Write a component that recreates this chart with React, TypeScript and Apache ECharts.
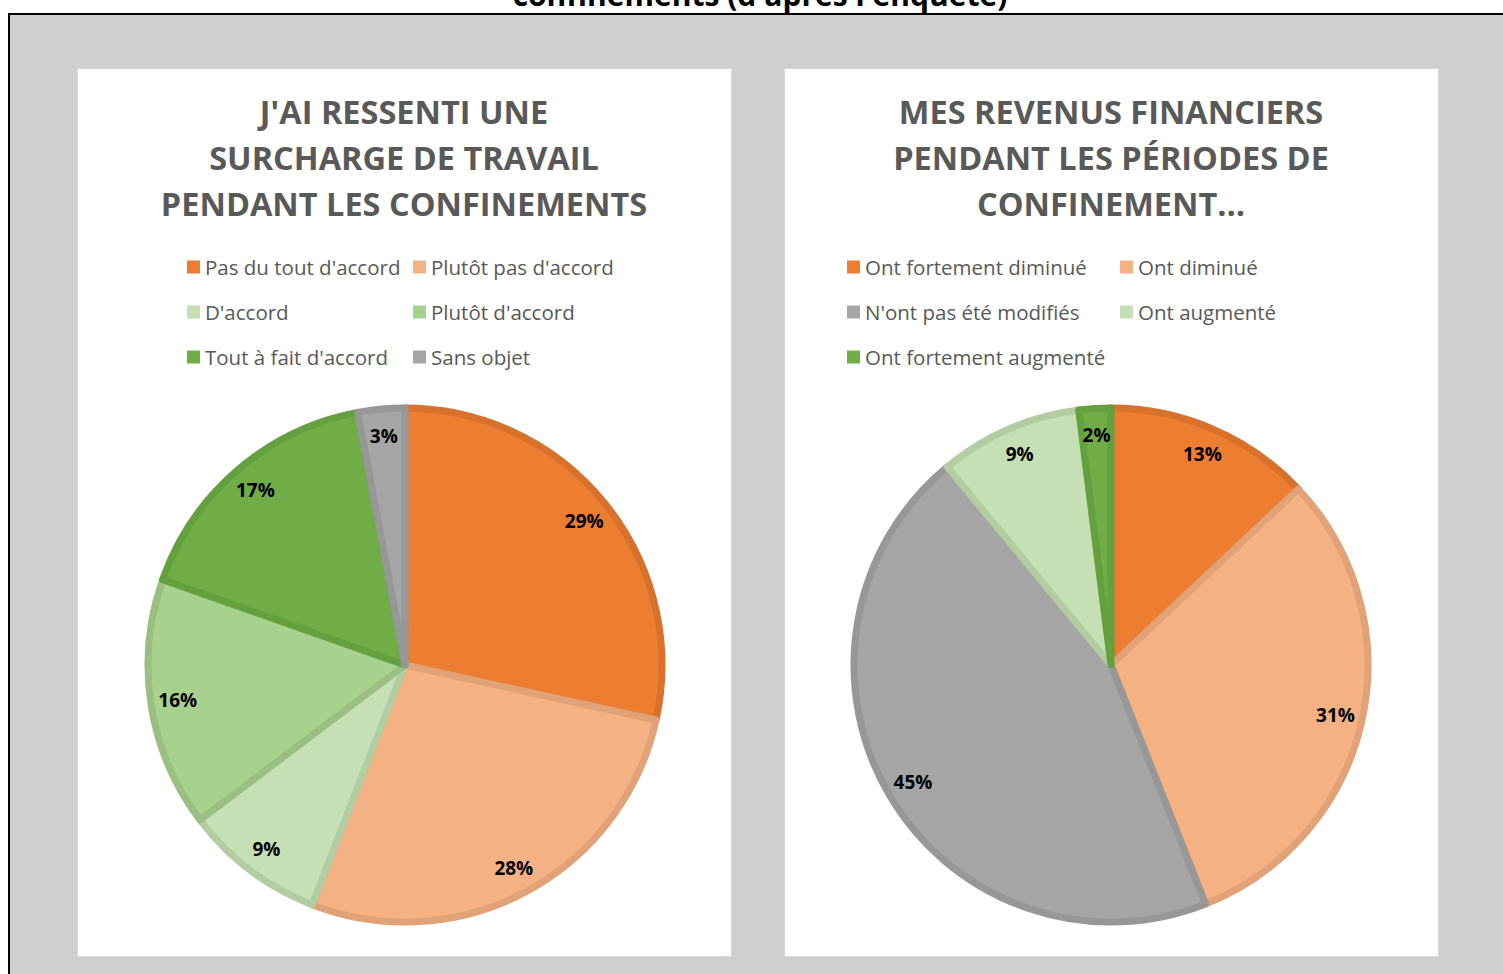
import React, { useEffect, useRef } from "react";
import * as echarts from "echarts";

const leftTitle = "J'AI RESSENTI UNE\nSURCHARGE DE TRAVAIL\nPENDANT LES CONFINEMENTS";
const rightTitle = "MES REVENUS FINANCIERS\nPENDANT LES PÉRIODES DE\nCONFINEMENT…";
const topTitle = "confinements (d'après l'enquête)";

const leftNames = [
  "Pas du tout d'accord",
  "Plutôt pas d'accord",
  "D'accord",
  "Plutôt d'accord",
  "Tout à fait d'accord",
  "Sans objet",
];
const leftValues = [29, 28, 9, 16, 17, 3];
const leftColors = ["#ED7D31", "#F4B183", "#C5E0B4", "#A9D18E", "#70AD47", "#A5A5A5"];
const leftBorders = ["#D8712C", "#E0A276", "#B3CDA3", "#9ABF81", "#65A03F", "#979797"];

const rightNames = [
  "Ont fortement diminué",
  "Ont diminué",
  "N'ont pas été modifiés",
  "Ont augmenté",
  "Ont fortement augmenté",
];
const rightValues = [13, 31, 45, 9, 2];
const rightColors = ["#ED7D31", "#F4B183", "#A5A5A5", "#C5E0B4", "#70AD47"];
const rightBorders = ["#D8712C", "#E0A276", "#979797", "#B3CDA3", "#65A03F"];

const FONT = "'Open Sans', sans-serif";

function pieSeries(names: string[], values: number[], colors: string[], borders: string[], cx: number) {
  const data = names.map((n, i) => ({
    name: n,
    value: values[i],
    itemStyle: { color: colors[i], borderColor: borders[i] },
  }));
  const main = {
    type: "pie",
    center: [cx, 665],
    radius: [0, 257],
    startAngle: 90,
    clockwise: true,
    avoidLabelOverlap: false,
    label: { show: false },
    labelLine: { show: false },
    itemStyle: { borderWidth: 7 },
    emphasis: { disabled: true },
    data,
  };
  const labels = {
    type: "pie",
    center: [cx, 665],
    radius: [192, 262],
    startAngle: 90,
    clockwise: true,
    silent: true,
    avoidLabelOverlap: false,
    itemStyle: { color: "rgba(0,0,0,0)", borderWidth: 0 },
    label: {
      show: true,
      position: "inside",
      formatter: "{c}%",
      color: "#000",
      fontFamily: FONT,
      fontWeight: "bold",
      fontSize: 19,
    },
    labelLine: { show: false },
    emphasis: { disabled: true },
    data: names.map((n, i) => ({ name: n, value: values[i] })),
  };
  return [main, labels];
}

function legend(names: string[], left: number) {
  return {
    orient: "vertical",
    left,
    top: 256,
    data: names,
    icon: "rect",
    itemWidth: 13,
    itemHeight: 13,
    itemGap: 23,
    padding: 0,
    selectedMode: false,
    itemStyle: { borderWidth: 0 },
    textStyle: { color: "#595959", fontFamily: FONT, fontSize: 20.5, lineHeight: 22 },
  };
}

export default function App() {
  const ref = useRef<HTMLDivElement>(null);
  useEffect(() => {
    if (!ref.current) return;
    const chart = echarts.init(ref.current, null, { renderer: "svg" });
    const titleStyle = {
      color: "#595959",
      fontFamily: FONT,
      fontWeight: "bold",
      fontSize: 32.5,
      lineHeight: 46,
    };
    chart.setOption({
      animation: false,
      backgroundColor: "#FFFFFF",
      title: [
        { text: leftTitle, left: 404, top: 88, textAlign: "center", padding: 0, textStyle: titleStyle },
        { text: rightTitle, left: 1111, top: 88, textAlign: "center", padding: 0, textStyle: titleStyle },
      ],
      legend: [
        legend([leftNames[0], leftNames[2], leftNames[4]], 187),
        legend([leftNames[1], leftNames[3], leftNames[5]], 413),
        legend([rightNames[0], rightNames[2], rightNames[4]], 847),
        legend([rightNames[1], rightNames[3]], 1120),
      ],
      graphic: [
        { type: "rect", z: -10, shape: { x: 9, y: 15, width: 1494, height: 959 }, style: { fill: "#D0CECE" } },
        { type: "line", z: -9, shape: { x1: 8, y1: 14, x2: 1503, y2: 14 }, style: { stroke: "#000", lineWidth: 2 } },
        { type: "line", z: -9, shape: { x1: 9, y1: 14, x2: 9, y2: 974 }, style: { stroke: "#000", lineWidth: 2 } },
        { type: "rect", z: -8, shape: { x: 77.5, y: 68.5, width: 654, height: 888 }, style: { fill: "#FFFFFF", stroke: "#D9D9D9", lineWidth: 1 } },
        { type: "rect", z: -8, shape: { x: 784.5, y: 68.5, width: 654, height: 888 }, style: { fill: "#FFFFFF", stroke: "#D9D9D9", lineWidth: 1 } },
        {
          type: "text",
          z: -9,
          x: 760,
          y: 9,
          style: {
            text: topTitle,
            fill: "#000",
            font: "bold 30px 'Open Sans', sans-serif",
            textAlign: "center",
            textVerticalAlign: "bottom",
          },
        },
      ],
      series: [
        ...pieSeries(leftNames, leftValues, leftColors, leftBorders, 405),
        ...pieSeries(rightNames, rightValues, rightColors, rightBorders, 1111),
      ],
    });
    return () => chart.dispose();
  }, []);
  return <div ref={ref} style={{ position: "absolute", left: 0, top: 0, width: 1503, height: 974 }} />;
}
